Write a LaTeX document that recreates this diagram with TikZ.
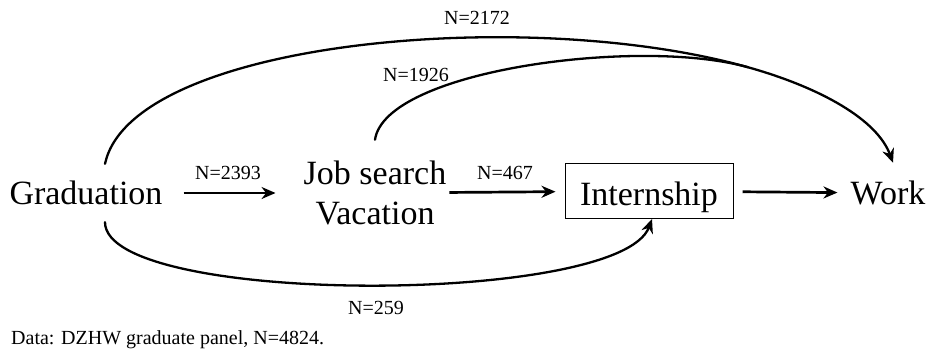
\documentclass[tikz,border=0pt]{standalone}
\usepackage{fontspec}
\setmainfont{Liberation Serif}
\usetikzlibrary{arrows.meta}

\begin{document}
\begin{tikzpicture}[x=1pt, y=-1pt,
    state/.style={inner sep=0pt, align=center, font=\fontsize{34}{40}\selectfont},
    count/.style={inner sep=0pt, font=\fontsize{20}{24}\selectfont},
    flow/.style={-{Stealth[length=14pt, width=12pt]}, line width=2.7pt},
    branch/.style={line width=2.3pt, line cap=round},
    route/.style={branch, -{Stealth[length=14pt, width=12pt]}}]
    \useasboundingbox (0,0) rectangle (928,353);

    % States
    \node[state] (grad) at (86,193) {Graduation};
    \node[state] (search) at (375,193) {Job search\\Vacation};
    \node[state, draw, line width=1pt, minimum width=168pt, minimum height=55pt, text height=28pt, text depth=0pt] (intern) at (649,191) {Internship};
    \node[state] (work) at (888,193) {Work};

    % Direct transitions
    \draw[flow, shorten <=21pt, shorten >=28pt] (grad) -- (search);
    \draw[flow, shorten <=3pt, shorten >=9pt] (search) -- (intern);
    \draw[flow, shorten <=9pt, shorten >=13pt] (intern) -- (work);

    % Long transitions (the two upper ones join before Work)
    \coordinate (merge) at (748.2,67.3);
    \draw[route] ([xshift=19pt, yshift=17pt]grad.north) .. controls (131.3,41.1) and (525.9,4.7) .. (merge) .. controls (822.3,88.2) and (877.3,120.1) .. ([xshift=5pt, yshift=18pt]work.north);
    \draw[branch] ([yshift=21pt]search.north) .. controls (385,70) and (640,36.8) .. (merge);
    \draw[route] ([xshift=19pt, yshift=-17pt]grad.south) .. controls (105,306) and (620,306) .. ([xshift=3pt]intern.south);

    % Counts
    \node[count] (n2393) at (228,173) {N=2393};
    \node[count] (n467) at (505,173) {N=467};
    \node[count] (n2172) at (477,18) {N=2172};
    \node[count] (n1926) at (416,75) {N=1926};
    \node[count] (n259) at (376,308) {N=259};

    % Source
    \node[count, anchor=west] (data) at (11,340) {Data: DZHW graduate panel, N=4824.};
\end{tikzpicture}
\end{document}
